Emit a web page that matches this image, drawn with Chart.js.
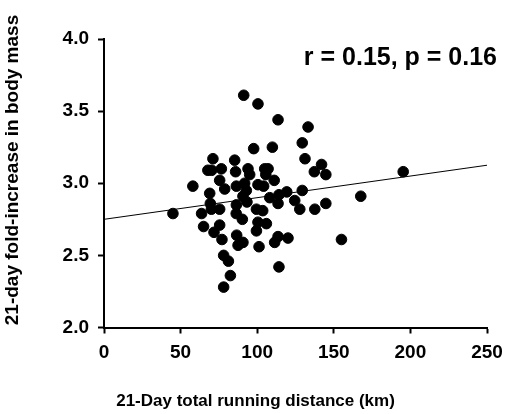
<!DOCTYPE html>
<html>
<head>
<meta charset="utf-8">
<script src="https://cdn.jsdelivr.net/npm/chart.js@4"></script>
<style>
  html, body { margin: 0; padding: 0; background: #fff; }
  #chart { display: block; }
</style>
</head>
<body>
<canvas id="chart" width="517" height="414"></canvas>
<script>
// running distance (km) per subject
const distanceKm = [
    45.0, 58.0, 63.7, 65.0, 67.8, 70.3, 69.0, 69.4, 70.1, 71.1,
    71.8, 75.5, 75.5, 75.5, 76.6, 77.0, 78.1, 81.2, 78.1, 82.5,
    78.8, 85.3, 85.9, 86.4, 86.4, 86.3, 86.6, 87.5, 90.7, 90.3,
    91.2, 100.5, 113.6, 97.7, 109.9, 94.0, 104.9, 107.1, 95.1, 105.6,
    111.1, 91.8, 100.5, 104.2, 92.9, 90.7, 93.3, 99.5, 103.6, 100.5,
    106.0, 99.5, 101.2, 108.2, 114.2, 119.3, 113.6, 111.4, 113.6, 114.2,
    120.1, 129.4, 124.5, 127.8, 137.6, 144.8, 133.2, 129.4, 131.2, 142.0,
    137.3, 144.8, 167.6, 155.0, 195.3
];
// fold-increase in body mass for the same subjects
const foldIncrease = [
    2.79, 2.98, 2.79, 2.70, 3.09, 3.09, 2.93, 2.86, 2.82, 3.17,
    2.66, 3.02, 2.82, 2.71, 3.10, 2.61, 2.50, 2.46, 2.28, 2.36,
    2.96, 3.16, 3.08, 2.98, 2.85, 2.79, 2.64, 2.57, 2.59, 2.75,
    3.61, 3.55, 3.44, 3.24, 3.25, 3.10, 3.10, 3.10, 3.06, 3.06,
    3.02, 3.00, 2.99, 2.98, 2.95, 2.91, 2.87, 2.82, 2.81, 2.73,
    2.72, 2.67, 2.56, 2.90, 2.92, 2.94, 2.86, 2.59, 2.63, 2.42,
    2.62, 2.95, 2.88, 2.82, 2.82, 2.86, 3.39, 3.28, 3.17, 3.13,
    3.08, 3.06, 2.91, 2.61, 3.08
];
// regression line end points
const fitX = [0, 250];
const fitY = [2.75, 3.125];

const statsLabel = 'r = 0.15, p = 0.16';
const xTitle = '21-Day total running distance (km)';
const yTitle = '21-day fold-increase in body mass';

const points = distanceKm.map((x, i) => ({ x: x, y: foldIncrease[i] }));
const fitLine = fitX.map((x, i) => ({ x: x, y: fitY[i] }));

const fontFamily = '"Liberation Sans", Arial, sans-serif';

// correlation text plus the two axis titles (the titles sit centred on the figure, not the plot)
const extraText = {
    id: 'extraText',
    afterDraw(chart) {
        const ctx = chart.ctx;
        const area = chart.chartArea;
        ctx.save();
        ctx.fillStyle = '#000';
        ctx.textBaseline = 'middle';

        ctx.font = 'bold 25px ' + fontFamily;
        ctx.textAlign = 'right';
        ctx.fillText(statsLabel, area.right + 10, area.top + 19);

        ctx.font = 'bold 17px ' + fontFamily;
        ctx.textAlign = 'center';
        ctx.fillText(xTitle, chart.width / 2 - 3, 401);

        ctx.translate(13, 170);
        ctx.rotate(-Math.PI / 2);
        ctx.font = 'bold 19px ' + fontFamily;
        ctx.fillText(yTitle, 0, 0);
        ctx.restore();
    }
};

new Chart(document.getElementById('chart'), {
    type: 'scatter',
    data: {
        datasets: [{
            label: 'subjects',
            data: points,
            backgroundColor: '#000',
            borderColor: '#000',
            pointRadius: 5.3,
            pointHoverRadius: 5.3
        }, {
            type: 'line',
            label: 'fit',
            data: fitLine,
            borderColor: '#000',
            borderWidth: 1,
            pointRadius: 0,
            fill: false
        }]
    },
    options: {
        responsive: false,
        animation: false,
        layout: { padding: { top: 39, right: 30, left: 0, bottom: 0 } },
        plugins: {
            legend: { display: false },
            tooltip: { enabled: false }
        },
        scales: {
            x: {
                type: 'linear',
                min: 0,
                max: 250,
                afterFit: function(scale) { scale.height = 86.5; },
                ticks: {
                    stepSize: 50,
                    color: '#000',
                    padding: 8,
                    font: { family: fontFamily, size: 19, weight: 'bold' }
                },
                grid: { drawOnChartArea: false, color: '#000', tickLength: 6, tickWidth: 2 },
                border: { color: '#000', width: 2 }
            },
            y: {
                min: 2,
                max: 4,
                afterFit: function(scale) { scale.width = 104; },
                ticks: {
                    stepSize: 0.5,
                    color: '#000',
                    padding: 9,
                    callback: v => v.toFixed(1),
                    font: { family: fontFamily, size: 19, weight: 'bold' }
                },
                grid: { drawOnChartArea: false, color: '#000', tickLength: 6, tickWidth: 2 },
                border: { color: '#000', width: 2 }
            }
        }
    },
    plugins: [extraText]
});
</script>
</body>
</html>
